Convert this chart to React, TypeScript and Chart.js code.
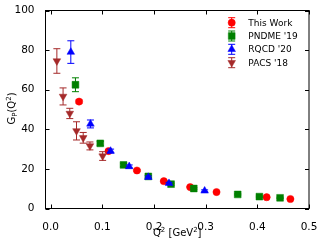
import React, { useEffect, useRef } from "react";
import { Chart, registerables } from "chart.js";
Chart.register(...registerables);

// ---- data ----
const seriesNames = ["This Work", "PNDME '19", "RQCD '20", "PACS '18"];
const seriesColors = ["#ff0000", "#008000", "#0000ff", "#a52a2a"];

const thisWorkQ2 = [0.055, 0.112, 0.167, 0.219, 0.27, 0.321, 0.418, 0.464];
const thisWorkGP = [54.0, 29.0, 19.2, 13.8, 10.8, 8.3, 5.7, 4.8];
const thisWorkErr = [0.8, 0.5, 0.4, 0.3, 0.3, 0.3, 0.2, 0.2];

const pndmeQ2 = [0.048, 0.096, 0.141, 0.189, 0.233, 0.277, 0.362, 0.404, 0.444];
const pndmeGP = [62.5, 32.9, 22.0, 16.2, 12.3, 10.1, 7.1, 6.0, 5.4];
const pndmeErr = [3.5, 1.0, 0.8, 0.6, 0.5, 0.4, 0.3, 0.3, 0.3];

const rqcdQ2 = [0.039, 0.077, 0.116, 0.152, 0.189, 0.229, 0.298];
const rqcdGP = [79.0, 42.7, 29.0, 21.2, 15.8, 12.7, 8.9];
const rqcdErr = [5.7, 2.0, 1.0, 0.8, 0.6, 0.5, 0.5];

const pacsQ2 = [0.012, 0.024, 0.037, 0.05, 0.063, 0.076, 0.1006];
const pacsGP = [74.5, 56.6, 48.0, 39.2, 35.7, 31.6, 26.5];
const pacsErr = [6.2, 4.3, 2.6, 4.6, 2.7, 2.0, 2.2];

const xTicks = [0.0, 0.1, 0.2, 0.3, 0.4, 0.5];
const yTicks = [0, 20, 40, 60, 80, 100];

const FONT = "'DejaVu Sans', sans-serif";

type PStyle = { style: string; radius: number; rotation: number };
const markers: PStyle[] = [
  { style: "circle", radius: 3.6, rotation: 0 },
  { style: "rect", radius: 4.8, rotation: 0 },
  { style: "triangle", radius: 4.4, rotation: 0 },
  { style: "triangle", radius: 4.4, rotation: 180 },
];

const allQ2 = [thisWorkQ2, pndmeQ2, rqcdQ2, pacsQ2];
const allGP = [thisWorkGP, pndmeGP, rqcdGP, pacsGP];
const allErr = [thisWorkErr, pndmeErr, rqcdErr, pacsErr];

function drawErrBar(ctx: CanvasRenderingContext2D, x: number, y1: number, y2: number, color: string) {
  const cap = 3.5;
  ctx.save();
  ctx.strokeStyle = color;
  ctx.lineWidth = 1;
  ctx.beginPath();
  ctx.moveTo(x, y1);
  ctx.lineTo(x, y2);
  ctx.moveTo(x - cap, y1);
  ctx.lineTo(x + cap, y1);
  ctx.moveTo(x - cap, y2);
  ctx.lineTo(x + cap, y2);
  ctx.stroke();
  ctx.restore();
}

function drawMarker(ctx: CanvasRenderingContext2D, m: PStyle, x: number, y: number, color: string) {
  ctx.save();
  ctx.fillStyle = color;
  ctx.strokeStyle = color;
  ctx.lineWidth = 0.5;
  ctx.beginPath();
  const r = m.radius;
  if (m.style === "circle") {
    ctx.arc(x, y, r, 0, Math.PI * 2);
  } else if (m.style === "rect") {
    const s = Math.SQRT1_2 * r;
    ctx.rect(x - s, y - s, 2 * s, 2 * s);
  } else {
    let rad = (m.rotation * Math.PI) / 180;
    for (let k = 0; k < 3; k++) {
      const px = x + Math.sin(rad) * r;
      const py = y - Math.cos(rad) * r;
      if (k === 0) ctx.moveTo(px, py);
      else ctx.lineTo(px, py);
      rad += (2 * Math.PI) / 3;
    }
    ctx.closePath();
  }
  ctx.fill();
  ctx.stroke();
  ctx.restore();
}

const errorBarPlugin = {
  id: "errorBars",
  beforeDatasetDraw(chart: any, args: any) {
    const i = args.index;
    const ctx = chart.ctx;
    const xs = chart.scales.x;
    const ys = chart.scales.y;
    const q = allQ2[i], g = allGP[i], e = allErr[i];
    for (let k = 0; k < q.length; k++) {
      const px = xs.getPixelForValue(q[k]);
      drawErrBar(ctx, px, ys.getPixelForValue(g[k] + e[k]), ys.getPixelForValue(g[k] - e[k]), seriesColors[i]);
    }
  },
};

const decorPlugin = {
  id: "decor",
  afterDraw(chart: any) {
    const ctx: CanvasRenderingContext2D = chart.ctx;
    const { left, right, top, bottom } = chart.chartArea;
    const xs = chart.scales.x;
    const ys = chart.scales.y;
    ctx.save();
    // frame
    ctx.strokeStyle = "#000";
    ctx.lineWidth = 1;
    ctx.strokeRect(left, top, right - left, bottom - top);
    // inward ticks
    const tl = 4;
    ctx.beginPath();
    for (const v of xTicks) {
      const px = Math.round(xs.getPixelForValue(v)) + 0.5;
      ctx.moveTo(px, bottom);
      ctx.lineTo(px, bottom - tl);
      ctx.moveTo(px, top);
      ctx.lineTo(px, top + tl);
    }
    for (const v of yTicks) {
      const py = Math.round(ys.getPixelForValue(v)) + 0.5;
      ctx.moveTo(left, py);
      ctx.lineTo(left + tl, py);
      ctx.moveTo(right, py);
      ctx.lineTo(right - tl, py);
    }
    ctx.stroke();

    // x title: Q² [GeV²]
    ctx.fillStyle = "#000";
    ctx.textBaseline = "alphabetic";
    ctx.textAlign = "left";
    const big = `10px ${FONT}`;
    const small = `7px ${FONT}`;
    const xParts: [string, string, number][] = [
      ["Q", big, 0],
      ["2", small, -4],
      [" [GeV", big, 0],
      ["2", small, -4],
      ["]", big, 0],
    ];
    let w = 0;
    for (const [t, f] of xParts) {
      ctx.font = f;
      w += ctx.measureText(t).width;
    }
    let cx = (left + right) / 2 - w / 2;
    const by = 236;
    for (const [t, f, dy] of xParts) {
      ctx.font = f;
      ctx.fillText(t, cx, by + dy);
      cx += ctx.measureText(t).width;
    }

    // y title: G_P(Q²)
    const yParts: [string, string, number][] = [
      ["G", big, 0],
      ["P", small, 2.5],
      ["(Q", big, 0],
      ["2", small, -4],
      [")", big, 0],
    ];
    w = 0;
    for (const [t, f] of yParts) {
      ctx.font = f;
      w += ctx.measureText(t).width;
    }
    ctx.save();
    ctx.translate(14.5, (top + bottom) / 2 - 1);
    ctx.rotate(-Math.PI / 2);
    let tx = -w / 2;
    for (const [t, f, dy] of yParts) {
      ctx.font = f;
      ctx.fillText(t, tx, dy);
      tx += ctx.measureText(t).width;
    }
    ctx.restore();

    // legend
    const lx = 231.7;
    const textX = 248.3;
    const rowY = [22.7, 36, 49.3, 62.7];
    ctx.font = `9px ${FONT}`;
    ctx.textBaseline = "middle";
    for (let i = 0; i < seriesNames.length; i++) {
      const y = rowY[i];
      drawErrBar(ctx, lx, y - 5, y + 5, seriesColors[i]);
      drawMarker(ctx, markers[i], lx, y, seriesColors[i]);
      ctx.fillStyle = "#000";
      ctx.fillText(seriesNames[i], textX, y + 0.5);
    }
    ctx.restore();
  },
};

export default function App() {
  const ref = useRef<HTMLCanvasElement | null>(null);
  useEffect(() => {
    if (!ref.current) return;
    const datasets = seriesNames.map((name, i) => ({
      label: name,
      data: allQ2[i].map((q, k) => ({ x: q, y: allGP[i][k] })),
      backgroundColor: seriesColors[i],
      borderColor: seriesColors[i],
      borderWidth: 0.5,
      pointStyle: markers[i].style,
      pointRadius: markers[i].radius,
      pointRotation: markers[i].rotation,
      showLine: false,
      order: 4 - i,
    }));
    const chart = new Chart(ref.current, {
      type: "scatter",
      data: { datasets } as any,
      options: {
        animation: false,
        responsive: false,
        devicePixelRatio: 1,
        layout: { padding: { top: 10.5, right: 15, left: 0, bottom: 0 } },
        plugins: { legend: { display: false }, tooltip: { enabled: false } },
        scales: {
          x: {
            type: "linear",
            min: -0.01,
            max: 0.5,
            grid: { display: false },
            border: { display: false },
            afterFit: (s: any) => { s.height = 36.5; },
            afterBuildTicks: (s: any) => { s.ticks = xTicks.map((v) => ({ value: v })); },
            ticks: {
              padding: 4,
              color: "#000",
              font: { family: FONT, size: 10.5 },
              callback: (v: any) => Number(v).toFixed(1),
            },
          },
          y: {
            type: "linear",
            min: 0,
            max: 100,
            grid: { display: false },
            border: { display: false },
            afterFit: (s: any) => { s.width = 45.5; },
            afterBuildTicks: (s: any) => { s.ticks = yTicks.map((v) => ({ value: v })); },
            ticks: {
              padding: 3,
              color: "#000",
              font: { family: FONT, size: 10.5 },
              callback: (v: any) => String(v),
            },
          },
        },
      },
      plugins: [errorBarPlugin, decorPlugin],
    } as any);
    return () => chart.destroy();
  }, []);
  return (
    <div style={{ position: "absolute", left: 0, top: 0, width: 324, height: 245 }}>
      <canvas ref={ref} width={324} height={245} style={{ width: 324, height: 245 }} />
    </div>
  );
}
